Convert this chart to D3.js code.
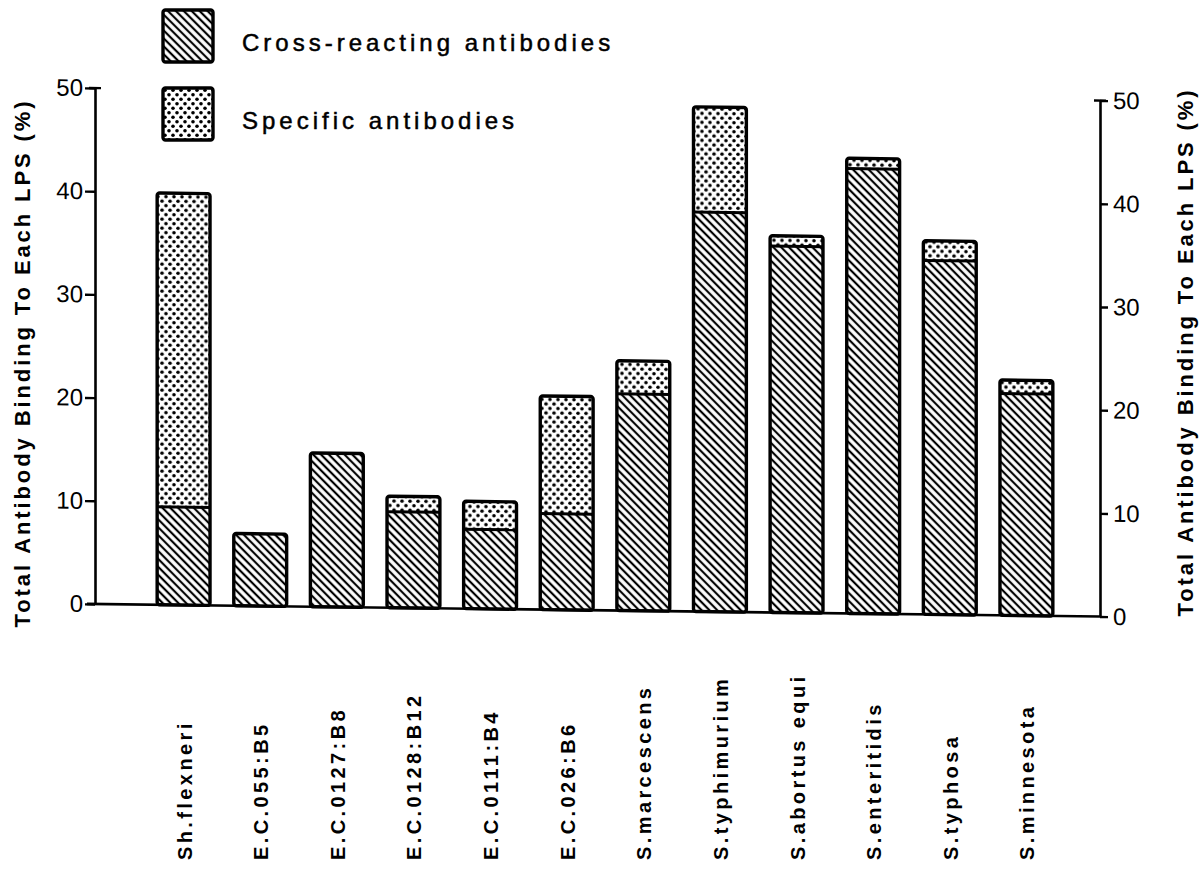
<!DOCTYPE html>
<html>
<head>
<meta charset="utf-8">
<script src="https://cdn.jsdelivr.net/npm/d3@7"></script>
<style>
  html, body { margin: 0; padding: 0; background: #fff; }
  svg { display: block; font-family: "Liberation Sans", Arial, sans-serif; }
</style>
</head>
<body>
<svg id="chart" width="1203" height="881"></svg>
<script>
// LPS preparations tested
const categories = [
  "Sh.flexneri", "E.C.055:B5", "E.C.0127:B8", "E.C.0128:B12", "E.C.0111:B4",
  "E.C.026:B6", "S.marcescens", "S.typhimurium", "S.abortus equi",
  "S.enteritidis", "S.typhosa", "S.minnesota"
];
// total antibody binding (%) to each LPS
const totalBinding = [39.9, 7.0, 14.9, 10.8, 10.4, 20.7, 24.2, 48.9, 36.5, 44.1, 36.2, 22.8];
// portion of the binding due to cross-reacting antibodies (%)
const crossReacting = [9.5, 7.0, 14.9, 9.3, 7.7, 9.3, 21.0, 38.7, 35.5, 43.1, 34.3, 21.5];
// axis ticks
const yTicks = [0, 10, 20, 30, 40, 50];
const yTitle = "Total Antibody Binding To Each LPS (%)";
const legendLabels = ["Cross-reacting antibodies", "Specific antibodies"];

const svg = d3.select("#chart");

// fill patterns: diagonal hatch and dot stipple
const defs = svg.append("defs");
const hatch = defs.append("pattern")
  .attr("id", "hatch").attr("patternUnits", "userSpaceOnUse")
  .attr("width", 5.6).attr("height", 5.6)
  .attr("patternTransform", "rotate(45)");
hatch.append("rect").attr("width", 5.6).attr("height", 5.6).attr("fill", "#fff");
hatch.append("line").attr("x1", -1).attr("x2", 7).attr("y1", 2.8).attr("y2", 2.8)
  .attr("stroke", "#000").attr("stroke-width", 2.2);

const dots = defs.append("pattern")
  .attr("id", "dots").attr("patternUnits", "userSpaceOnUse")
  .attr("width", 8).attr("height", 9);
dots.append("rect").attr("width", 8).attr("height", 9).attr("fill", "#fff");
dots.append("circle").attr("cx", 2).attr("cy", 2.25).attr("r", 1.8).attr("fill", "#000");
dots.append("circle").attr("cx", 6).attr("cy", 6.75).attr("r", 1.8).attr("fill", "#000");

// scales
const x = d3.scaleBand().domain(categories).range([120, 1090])
  .paddingInner(0.31).paddingOuter(0.485);
const y = d3.scaleLinear().domain([0, 50]).range([604, 88]);

const leftX = 95, rightX = 1100;

// plotting frame; the baseline runs slightly downhill to the right
const slope = Math.atan(0.0125) * 180 / Math.PI;
const plot = svg.append("g")
  .attr("transform", `translate(${leftX},0) skewY(${slope}) translate(${-leftX},0)`);

// bars
const bars = plot.selectAll("g.bar")
  .data(categories.map((c, i) => ({ c, total: totalBinding[i], cross: crossReacting[i] })))
  .join("g").attr("class", "bar");
bars.append("rect")
  .attr("x", d => x(d.c)).attr("width", x.bandwidth())
  .attr("y", d => y(d.cross))
  .attr("height", d => y(0) - y(d.cross))
  .attr("fill", "url(#hatch)");
const split = bars.filter(d => d.total > d.cross);
split.append("rect")
  .attr("x", d => x(d.c)).attr("width", x.bandwidth())
  .attr("y", d => y(d.total))
  .attr("height", d => y(d.cross) - y(d.total))
  .attr("fill", "url(#dots)");
split.append("line")
  .attr("x1", d => x(d.c)).attr("x2", d => x(d.c) + x.bandwidth())
  .attr("y1", d => y(d.cross)).attr("y2", d => y(d.cross))
  .attr("stroke", "#000").attr("stroke-width", 3);
bars.append("rect")
  .attr("x", d => x(d.c)).attr("width", x.bandwidth())
  .attr("y", d => y(d.total))
  .attr("height", d => y(0) - y(d.total))
  .attr("rx", 2.5)
  .attr("fill", "none").attr("stroke", "#000").attr("stroke-width", 3.4);

// baseline
plot.append("line")
  .attr("x1", leftX - 8).attr("x2", rightX)
  .attr("y1", y(0)).attr("y2", y(0))
  .attr("stroke", "#000").attr("stroke-width", 2.6);

// axes
function styleAxis(g) {
  g.select(".domain").attr("stroke", "#000").attr("stroke-width", 2.6);
  g.selectAll(".tick line").attr("stroke", "#000").attr("stroke-width", 2.4);
  g.selectAll(".tick text").attr("fill", "#000").attr("font-size", 24)
    .attr("font-family", "'Liberation Sans', Arial, sans-serif");
}
plot.append("g")
  .attr("transform", `translate(${leftX},0)`)
  .call(d3.axisLeft(y).tickValues(yTicks).tickSize(10).tickSizeOuter(0).tickPadding(2))
  .call(styleAxis);
plot.append("g")
  .attr("transform", `translate(${rightX},0)`)
  .call(d3.axisRight(y).tickValues(yTicks).tickSize(8).tickSizeOuter(0).tickPadding(5))
  .call(styleAxis);
// small caps at the top of both axes
[leftX, rightX].forEach(ax => {
  plot.append("line")
    .attr("x1", ax - 6).attr("x2", ax + 6)
    .attr("y1", y(50)).attr("y2", y(50))
    .attr("stroke", "#000").attr("stroke-width", 2.4);
});

// axis titles
const titleStyle = t => t.attr("text-anchor", "middle").attr("font-weight", "bold")
  .attr("font-size", 22).attr("letter-spacing", 2.9).text(yTitle);
svg.append("text")
  .attr("transform", `translate(30,${(y(0) + y(50)) / 2 + 17}) rotate(-90)`)
  .call(titleStyle);
svg.append("text")
  .attr("transform", `translate(1193,${(y(0) + y(50)) / 2 + 6}) rotate(-90)`)
  .call(titleStyle);

// category labels, vertical, reading upward
svg.append("g").selectAll("text").data(categories).join("text")
  .attr("transform", d => `translate(${x(d) + x.bandwidth() / 2 + 8},860) rotate(-90)`)
  .attr("font-weight", "bold").attr("font-size", 20).attr("letter-spacing", 3.4)
  .text(d => d);

// legend
const legend = svg.append("g");
const legendFills = ["url(#hatch)", "url(#dots)"];
legendLabels.forEach((label, i) => {
  const g = legend.append("g").attr("transform", `translate(163,${10 + i * 78})`);
  g.append("rect").attr("width", 50).attr("height", 52).attr("rx", 2.5)
    .attr("fill", legendFills[i]).attr("stroke", "#000").attr("stroke-width", 3.4);
  g.append("text").attr("x", 79).attr("y", 41)
    .attr("font-size", 24).attr("letter-spacing", 4)
    .attr("stroke", "#000").attr("stroke-width", 0.5)
    .text(label);
});
</script>
</body>
</html>
